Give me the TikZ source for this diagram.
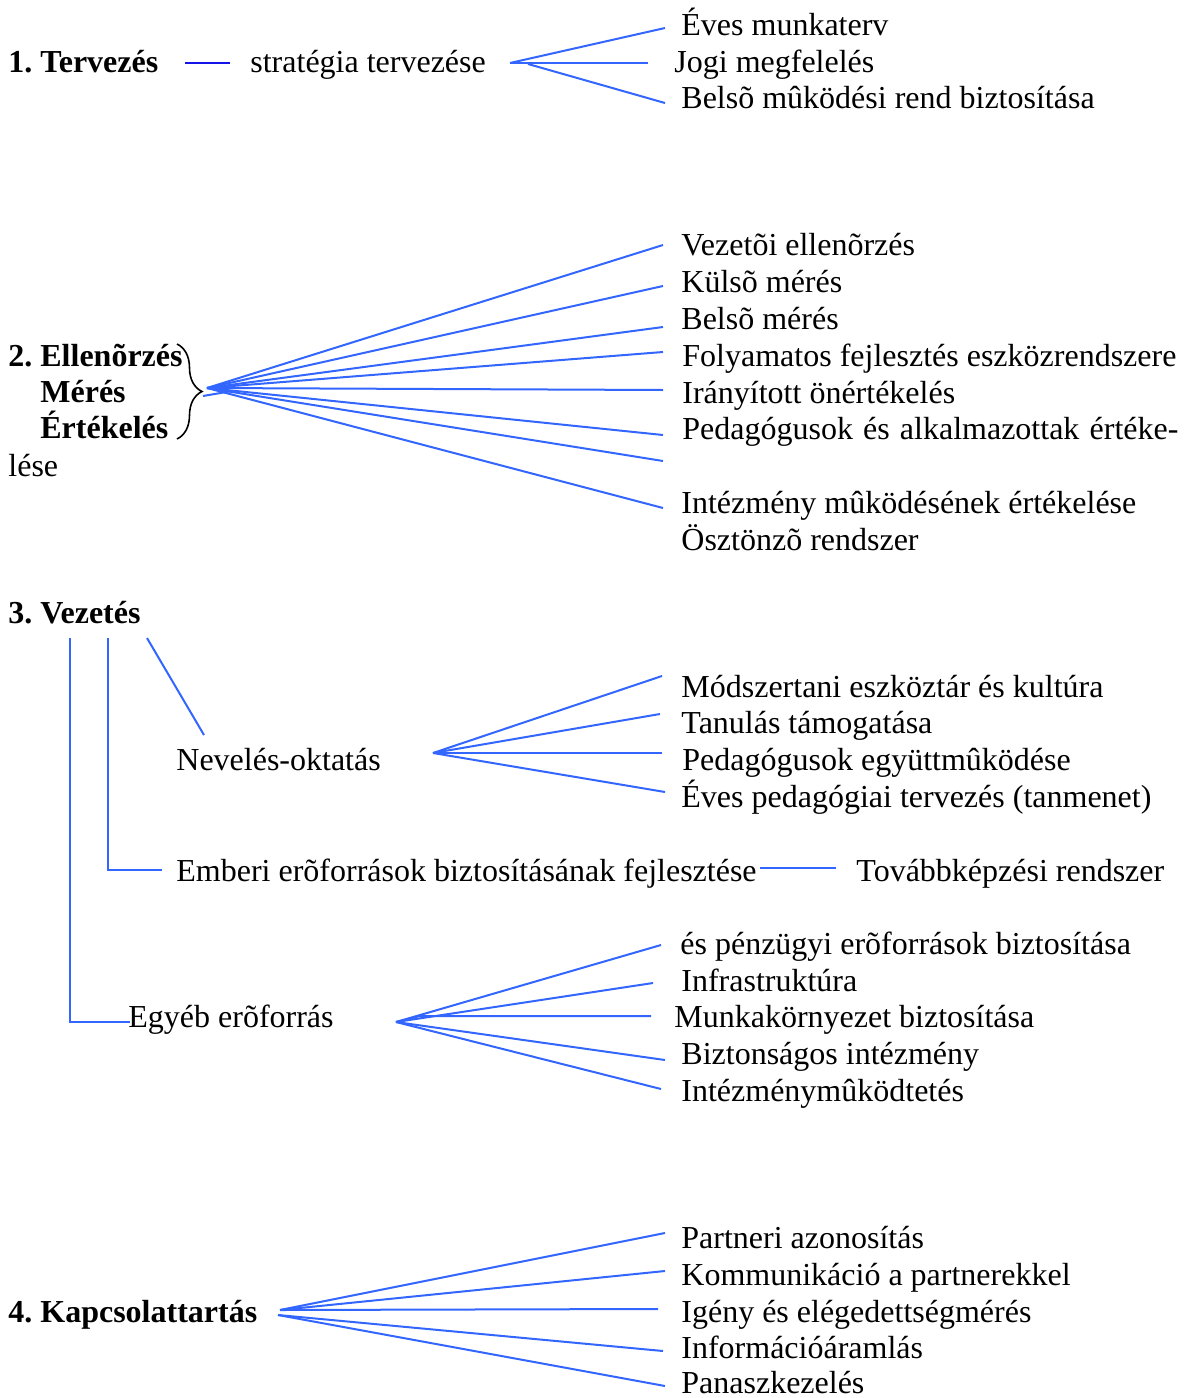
\documentclass[tikz,border=0pt]{standalone}
\usepackage{fontspec}
\setmainfont{Liberation Serif}
\frenchspacing
\usetikzlibrary{decorations.pathreplacing}
\definecolor{lineblue}{RGB}{51,102,255}
\definecolor{darkblue}{RGB}{20,20,230}
\newcommand{\fs}{\fontsize{16}{19}\selectfont}
\tikzset{
  txt/.style={anchor=base west, inner sep=0pt, font=\fs},
  hdr/.style={anchor=base west, inner sep=0pt, font=\fs\bfseries},
  ln/.style={draw=lineblue, line width=1pt},
  darkln/.style={draw=darkblue, line width=1pt},
}
\begin{document}
\begin{tikzpicture}[x=0.5pt, y=-0.5pt]
\useasboundingbox (0,0) rectangle (1189,1398);

% ---------- 1. Tervezes ----------
\node[hdr] (t1) at (8,72) {1. Tervezés};
\node[txt] (s1) at (250,72) {stratégia tervezése};
\coordinate (d1a) at (185,63);
\coordinate (d1b) at (230,63);
\draw[darkln] (d1a) -- (d1b);
\node[txt] (a1) at (681,35) {Éves munkaterv};
\node[txt] (a2) at (674,72) {Jogi megfelelés};
\node[txt] (a3) at (681,108) {Belsõ mûködési rend biztosítása};
\coordinate (o1) at (510,63);
\coordinate (o1b) at (528,64);
\coordinate (e11) at (665,28);
\coordinate (e12) at (648,63);
\coordinate (e13) at (665,103);
\draw[ln] (o1) -- (e11);
\draw[ln] (o1) -- (e12);
\draw[ln] (o1b) -- (e13);

% ---------- 2. Ellenorzes ----------
\node[hdr] (t2) at (8,366) {2. Ellenõrzés};
\node[hdr] (t2b) at (40,402) {Mérés};
\node[hdr] (t2c) at (40,438) {Értékelés};
\node[txt] (t2d) at (8,476) {lése};
\coordinate (br1) at (177,344);
\coordinate (br2) at (177,439);
\draw[line width=0.8pt, decorate, decoration={brace, amplitude=12.5pt}] (br1) -- (br2);
\coordinate (o2) at (207,388);
\coordinate (o2s) at (203,396);
\coordinate (o2t) at (232,391);
\draw[ln] (o2s) -- (o2t);
\foreach \y [count=\i] in {245,286,327,352,390,435,461,508}
  { \coordinate (e2\i) at (663,\y); \draw[ln] (o2) -- (e2\i); }
\node[txt] (b1) at (681,255) {Vezetõi ellenõrzés};
\node[txt] (b2) at (681,292) {Külsõ mérés};
\node[txt] (b3) at (681,329) {Belsõ mérés};
\node[txt] (b4) at (682,366) {Folyamatos fejlesztés eszközrendszere};
\node[txt] (b5) at (682,403) {Irányított önértékelés};
\node[txt] (b6) at (682,439) {\makebox[248pt][s]{Pedagógusok és alkalmazottak értéke-}};
\node[txt] (b7) at (681,513) {Intézmény mûködésének értékelése};
\node[txt] (b8) at (681,550) {Ösztönzõ rendszer};

% ---------- 3. Vezetes ----------
\node[hdr] (t3) at (8,623) {3. Vezetés};
\coordinate (v1a) at (70,638);
\coordinate (v1b) at (70,1022);
\coordinate (v1c) at (130,1022);
\coordinate (v2a) at (108,638);
\coordinate (v2b) at (108,870);
\coordinate (v2c) at (162,870);
\coordinate (v3a) at (147,638);
\coordinate (v3b) at (204,735);
\draw[ln] (v1a) -- (v1b) -- (v1c);
\draw[ln] (v2a) -- (v2b) -- (v2c);
\draw[ln] (v3a) -- (v3b);

\node[txt] (n1) at (176,770) {Nevelés-oktatás};
\coordinate (o3) at (433,753);
\foreach \x/\y [count=\i] in {662/676,660/714,662/753,665/792}
  { \coordinate (e3\i) at (\x,\y); \draw[ln] (o3) -- (e3\i); }
\node[txt] (c1) at (681,697) {Módszertani eszköztár és kultúra};
\node[txt] (c2) at (681,733) {Tanulás támogatása};
\node[txt] (c3) at (682,770) {Pedagógusok együttmûködése};
\node[txt] (c4) at (681,807) {Éves pedagógiai tervezés (tanmenet)};

\node[txt] (n2) at (176,881) {Emberi erõforrások biztosításának fejlesztése};
\coordinate (h2a) at (760,868);
\coordinate (h2b) at (836,868);
\draw[ln] (h2a) -- (h2b);
\node[txt] (n2b) at (856,881) {Továbbképzési rendszer};

\node[txt] (n3) at (128,1027) {Egyéb erõforrás};
\coordinate (o4) at (396,1022);
\coordinate (o4m) at (420,1016);
\coordinate (e41) at (661,945);
\coordinate (e42) at (653,983);
\coordinate (e43) at (651,1016);
\coordinate (e44) at (665,1060);
\coordinate (e45) at (661,1089);
\draw[ln] (o4) -- (e41);
\draw[ln] (o4) -- (e42);
\draw[ln] (o4) -- (o4m) -- (e43);
\draw[ln] (o4) -- (e44);
\draw[ln] (o4) -- (e45);
\node[txt] (d1) at (680,954) {és pénzügyi erõforrások biztosítása};
\node[txt] (d2) at (681,991) {Infrastruktúra};
\node[txt] (d3) at (674,1027) {Munkakörnyezet biztosítása};
\node[txt] (d4) at (681,1064) {Biztonságos intézmény};
\node[txt] (d5) at (681,1101) {Intézménymûködtetés};

% ---------- 4. Kapcsolattartas ----------
\node[hdr] (t4) at (8,1322) {4. Kapcsolattartás};
\coordinate (o5) at (280,1310);
\coordinate (o5b) at (278,1315);
\coordinate (e51) at (665,1233);
\coordinate (e52) at (665,1271);
\coordinate (e53) at (658,1309);
\coordinate (e54) at (663,1351);
\coordinate (e55) at (665,1386);
\draw[ln] (o5) -- (e51);
\draw[ln] (o5) -- (e52);
\draw[ln] (o5) -- (e53);
\draw[ln] (o5b) -- (e54);
\draw[ln] (o5b) -- (e55);
\node[txt] (f1) at (681,1248) {Partneri azonosítás};
\node[txt] (f2) at (681,1285) {Kommunikáció a partnerekkel};
\node[txt] (f3) at (681,1322) {Igény és elégedettségmérés};
\node[txt] (f4) at (681,1358) {Információáramlás};
\node[txt] (f5) at (681,1393) {Panaszkezelés};
\end{tikzpicture}
\end{document}
